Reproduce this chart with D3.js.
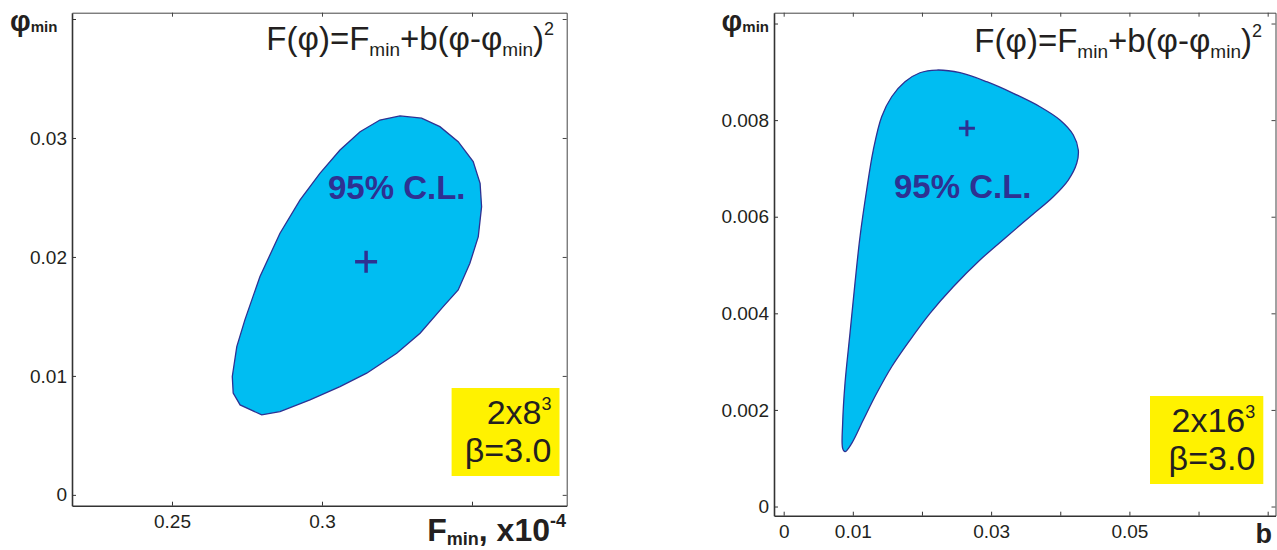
<!DOCTYPE html>
<html>
<head>
<meta charset="utf-8">
<script src="https://cdn.jsdelivr.net/npm/d3@7"></script>
<style>
  body { margin: 0; background: #fff; }
  svg { display: block; font-family: "Liberation Sans", Arial, Helvetica, sans-serif; }
  .tick text { fill: #231f20; font-size: 19px; }
</style>
</head>
<body>
<div id="chart"></div>
<script>
// ---- data ----
// left panel: 95% C.L. contour in (F_min [x1e-4], phi_min)
const leftContour = [
  [0.3260, 0.03185], [0.3332, 0.03166], [0.3393, 0.03095], [0.3454, 0.02969],
  [0.3504, 0.02801], [0.3527, 0.02619], [0.3532, 0.02423], [0.3521, 0.02171],
  [0.3493, 0.01947], [0.3454, 0.01723], [0.3404, 0.01582], [0.3327, 0.01359],
  [0.3249, 0.01191], [0.3149, 0.01023], [0.3060, 0.00910], [0.2960, 0.00798],
  [0.2860, 0.00700], [0.2799, 0.00672], [0.2727, 0.00756], [0.2704, 0.00855],
  [0.2701, 0.00995], [0.2716, 0.01246], [0.2743, 0.01471], [0.2793, 0.01834],
  [0.2860, 0.02199], [0.2927, 0.02479], [0.2993, 0.02703], [0.3060, 0.02899],
  [0.3127, 0.03053], [0.3193, 0.03151]
];
const leftBest = [0.3147, 0.0196];
const leftXTicks = [0.25, 0.3, 0.35];
const leftXLabels = [0.25, 0.3];
const leftYTicks = [0, 0.01, 0.02, 0.03, 0.04];
const leftYLabels = [0, 0.01, 0.02, 0.03];

// right panel: 95% C.L. contour in (b, phi_min)
const rightContour = [
  [0.00887, 0.001135], [0.00853, 0.001205], [0.00853, 0.001723], [0.00887, 0.002551],
  [0.00959, 0.003586], [0.01031, 0.004621], [0.01104, 0.005586], [0.01200, 0.006553],
  [0.01296, 0.007381], [0.01417, 0.008070], [0.01562, 0.008484], [0.01754, 0.008795],
  [0.01971, 0.008981], [0.02213, 0.009037], [0.02550, 0.008981], [0.02936, 0.008795],
  [0.03321, 0.008555], [0.03707, 0.008277], [0.03996, 0.008002], [0.04189, 0.007692],
  [0.04261, 0.007381], [0.04238, 0.007106], [0.04116, 0.006760], [0.03899, 0.006414],
  [0.03562, 0.006000], [0.03225, 0.005586], [0.02839, 0.005104], [0.02453, 0.004551],
  [0.02116, 0.004000], [0.01827, 0.003447], [0.01562, 0.002894], [0.01345, 0.002344],
  [0.01151, 0.001791], [0.00984, 0.001308]
];
const rightBest = [0.0265, 0.00783];
const rightXTicks = [0, 0.01, 0.02, 0.03, 0.04, 0.05, 0.06, 0.07];
const rightXLabels = [0, 0.01, 0.03, 0.05];
const rightYTicks = [0, 0.002, 0.004, 0.006, 0.008, 0.010];
const rightYLabels = [0, 0.002, 0.004, 0.006, 0.008];

const boxLeft = ["2x8", "3"];
const boxRight = ["2x16", "3"];
const betaText = "\u03b2=3.0";

// ---- drawing ----
const width = 1277, height = 550;
const fill = "#00bdf2", edge = "#2e3192", ink = "#231f20";

const svg = d3.select("#chart").append("svg")
  .attr("width", width)
  .attr("height", height);
svg.append("rect").attr("width", width).attr("height", height).attr("fill", "#fff");

function drawPanel(p) {
  const x = d3.scaleLinear().domain(p.xDomain).range([p.left, p.right]);
  const y = d3.scaleLinear().domain(p.yDomain).range([p.bottom, p.top]);
  const g = svg.append("g");

  // contour
  const line = d3.line().x(d => x(d[0])).y(d => y(d[1])).curve(p.curve);
  g.append("path")
    .attr("d", line(p.contour))
    .attr("fill", fill)
    .attr("stroke", edge)
    .attr("stroke-width", 1.3);

  // best fit cross
  const cx = x(p.best[0]), cy = y(p.best[1]);
  g.append("path")
    .attr("d", `M${cx - p.arm},${cy}H${cx + p.arm}M${cx},${cy - p.arm}V${cy + p.arm}`)
    .attr("stroke", edge)
    .attr("stroke-width", p.armWidth);

  g.append("text")
    .attr("x", p.clX).attr("y", p.clY)
    .attr("fill", edge)
    .attr("font-weight", "bold")
    .attr("font-size", 33)
    .text("95% C.L.");

  // axes, ticks pointing inward
  const fmt = labels => v => labels.some(l => Math.abs(l - v) < 1e-9) ? String(v) : "";
  const bottomAx = g.append("g").attr("transform", `translate(0,${p.bottom})`)
    .call(d3.axisBottom(x).tickValues(p.xTicks).tickFormat(fmt(p.xLabels))
      .tickSizeInner(-4).tickSizeOuter(0).tickPadding(8.5));
  const leftAx = g.append("g").attr("transform", `translate(${p.left},0)`)
    .call(d3.axisLeft(y).tickValues(p.yTicks).tickFormat(fmt(p.yLabels))
      .tickSizeInner(-4).tickSizeOuter(0).tickPadding(5));
  const topAx = g.append("g").attr("transform", `translate(0,${p.top})`)
    .call(d3.axisTop(x).tickValues(p.xTicks).tickFormat("").tickSizeInner(-4).tickSizeOuter(0));
  const rightAx = g.append("g").attr("transform", `translate(${p.right},0)`)
    .call(d3.axisRight(y).tickValues(p.yTicks).tickFormat("").tickSizeInner(-4).tickSizeOuter(0));

  [bottomAx, leftAx].forEach(a => {
    a.select(".domain").attr("stroke", "#333").attr("stroke-width", 1.6);
    a.selectAll(".tick line").attr("stroke", "#333");
    a.selectAll(".tick text").attr("font-family", null).attr("font-size", null);
  });
  [topAx, rightAx].forEach(a => {
    a.select(".domain").attr("stroke", "#444").attr("stroke-width", 1);
    a.selectAll(".tick line").attr("stroke", "#444");
  });

  // formula
  const f = g.append("text")
    .attr("x", p.formulaX).attr("y", p.formulaY)
    .attr("text-anchor", "end")
    .attr("fill", ink)
    .attr("font-size", 33);
  f.append("tspan").text("F(\u03c6)=F");
  f.append("tspan").attr("font-size", 19).attr("dy", 6).text("min");
  f.append("tspan").attr("dy", -6).text("+b(\u03c6-\u03c6");
  f.append("tspan").attr("font-size", 19).attr("dy", 6).text("min");
  f.append("tspan").attr("dy", -6).text(")");
  f.append("tspan").attr("font-size", 18).attr("dy", -15).text("2");

  // y-axis label
  const yl = g.append("text")
    .attr("x", p.yLabelX).attr("y", 31)
    .attr("text-anchor", p.yLabelAnchor)
    .attr("fill", ink)
    .attr("font-weight", "bold")
    .attr("font-size", 29);
  yl.append("tspan").text("\u03c6");
  yl.append("tspan").attr("font-size", 15).attr("dy", 1).text("min");

  // x-axis label
  const xl = g.append("text")
    .attr("x", p.xLabelX).attr("y", p.xLabelY)
    .attr("text-anchor", "end")
    .attr("fill", ink)
    .attr("font-weight", "bold")
    .attr("font-size", p.xLabelSize);
  p.xLabel.forEach(part => {
    const t = xl.append("tspan").text(part.t);
    if (part.size) t.attr("font-size", part.size);
    if (part.dy) t.attr("dy", part.dy);
  });

  // yellow info box
  g.append("rect")
    .attr("x", p.box[0]).attr("y", p.box[1])
    .attr("width", p.box[2] - p.box[0]).attr("height", p.box[3] - p.box[1])
    .attr("fill", "#fff200");
  const b1 = g.append("text")
    .attr("x", p.box[2] - 8).attr("y", p.box[1] + 36)
    .attr("text-anchor", "end").attr("fill", ink).attr("font-size", 34);
  b1.append("tspan").text(p.boxText[0]);
  b1.append("tspan").attr("font-size", 18).attr("dy", -14).text(p.boxText[1]);
  g.append("text")
    .attr("x", p.box[2] - 8).attr("y", p.box[3] - 14)
    .attr("text-anchor", "end").attr("fill", ink).attr("font-size", 34)
    .text(betaText);
}

drawPanel({
  left: 72, right: 566.7, top: 12.7, bottom: 505.7,
  xDomain: [0.21667, 0.38157], yDomain: [-0.00091, 0.04053],
  contour: leftContour, curve: d3.curveLinearClosed,
  best: leftBest, arm: 11, armWidth: 3.5,
  clX: 328, clY: 199,
  xTicks: leftXTicks, xLabels: leftXLabels, yTicks: leftYTicks, yLabels: leftYLabels,
  formulaX: 554, formulaY: 50,
  yLabelX: 10, yLabelAnchor: "start",
  xLabel: [{t: "F"}, {t: "min", size: 18, dy: 4}, {t: ", x10", dy: -4}, {t: "-4", size: 18, dy: -14}],
  xLabelX: 566, xLabelY: 541, xLabelSize: 32,
  box: [451.6, 388, 559.5, 476], boxText: boxLeft
});

drawPanel({
  left: 774, right: 1275.5, top: 12.7, bottom: 515.7,
  xDomain: [-0.0014, 0.07113], yDomain: [-0.00019, 0.010224],
  contour: rightContour, curve: d3.curveCatmullRomClosed,
  best: rightBest, arm: 8, armWidth: 3,
  clX: 894, clY: 198,
  xTicks: rightXTicks, xLabels: rightXLabels, yTicks: rightYTicks, yLabels: rightYLabels,
  formulaX: 1262, formulaY: 52,
  yLabelX: 769, yLabelAnchor: "end",
  xLabel: [{t: "b"}],
  xLabelX: 1272, xLabelY: 543, xLabelSize: 27,
  box: [1150, 396, 1263.3, 484], boxText: boxRight
});
</script>
</body>
</html>
